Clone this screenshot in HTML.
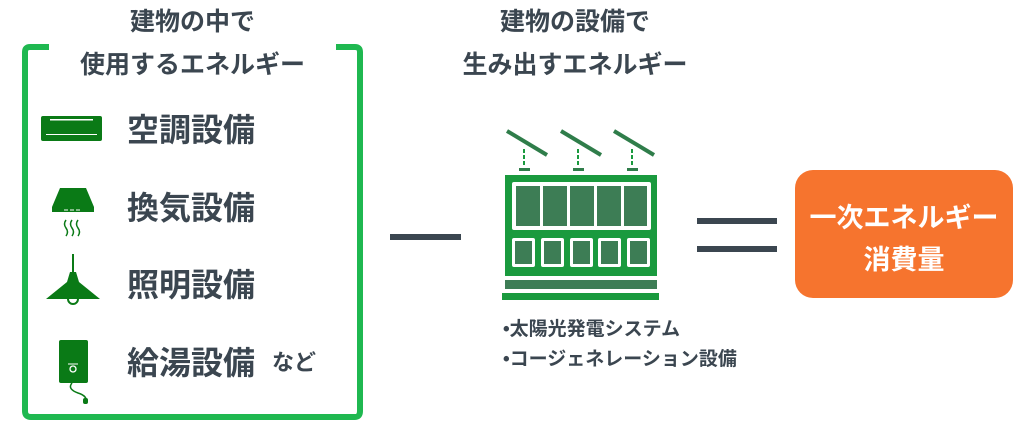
<!DOCTYPE html>
<html><head><meta charset="utf-8"><style>
body{margin:0;width:1024px;height:427px;background:#fff;overflow:hidden;position:relative;font-family:"Liberation Sans","Noto Sans CJK JP",sans-serif;font-weight:bold;color:#3b4650}
.t{position:absolute;white-space:nowrap;line-height:1}
</style></head><body>
<svg width="1024" height="427" style="position:absolute;left:0;top:0">
<path d="M49 47 H30 Q25 47 25 52 V411 Q25 417 31 417 H355 Q360 417 360 411 V52 Q360 47 355 47 H336" fill="none" stroke="#1fb850" stroke-width="6"/>
<rect x="41" y="116" width="61" height="25" rx="2" fill="#0a7a16"/>
<rect x="50" y="119" width="43" height="1.5" fill="#fff"/>
<rect x="46" y="134" width="51" height="1" fill="#fff"/>
<path d="M60 188 H86 L94 207 V212 H52 V207 Z" fill="#0a7a16"/>
<path d="M64 210h4M70 210h4M76 210h4" stroke="#fff" stroke-width="1"/>
<path d="M66 220q-3 4 0 8t0 8M72 220q-3 4 0 8t0 8M78 220q-3 4 0 8t0 8" stroke="#0a7a16" stroke-width="1.5" fill="none"/>
<line x1="73" y1="254" x2="73" y2="272" stroke="#0a7a16" stroke-width="2"/>
<path d="M70 272 h6 l3 10 L100 299 H46 L67 282 Z" fill="#0a7a16"/>
<path d="M68 299 a5 5 0 0 0 10 0" fill="none" stroke="#0a7a16" stroke-width="2"/>
<rect x="59" y="340" width="29" height="43" rx="2" fill="#0a7a16"/>
<circle cx="73" cy="369" r="3" fill="none" stroke="#fff" stroke-width="1.3"/>
<path d="M68 364 h10" stroke="#fff" stroke-width="1"/>
<path d="M72 383 q-5 6 6 10 q10 3 8 10" fill="none" stroke="#0a7a16" stroke-width="1.5"/>
<rect x="83" y="398" width="5" height="6" rx="2" fill="#0a7a16"/>
<rect x="390" y="234" width="71" height="6" fill="#3b4650"/>
<rect x="697" y="218" width="80" height="6" fill="#3b4650"/>
<rect x="697" y="246" width="80" height="6" fill="#3b4650"/>
<g stroke="#2f7d4a" stroke-width="4">
<line x1="507" y1="131" x2="547" y2="155"/><line x1="561" y1="131" x2="601" y2="155"/><line x1="614" y1="131" x2="654" y2="155"/>
</g>
<g stroke="#1a9a3e" stroke-width="2" stroke-dasharray="4 2">
<line x1="524" y1="149" x2="524" y2="165"/><line x1="578" y1="149" x2="578" y2="165"/><line x1="632" y1="149" x2="632" y2="165"/>
</g>
<g fill="#2f7d4a"><rect x="519" y="168" width="11" height="3"/><rect x="573" y="168" width="11" height="3"/><rect x="627" y="168" width="11" height="3"/></g>
<rect x="505" y="175" width="152" height="101" fill="#1a9a3e"/>
<rect x="512" y="182" width="139" height="48" rx="2" fill="#fff"/>
<g fill="#3d7d55">
<rect x="516" y="186" width="24" height="40"/><rect x="543" y="186" width="24" height="40"/><rect x="570" y="186" width="24" height="40"/><rect x="597" y="186" width="24" height="40"/><rect x="624" y="186" width="23" height="40"/>
</g>
<g fill="#fff"><rect x="512" y="238" width="23" height="29" rx="2"/><rect x="541" y="238" width="23" height="29" rx="2"/><rect x="570" y="238" width="23" height="29" rx="2"/><rect x="598" y="238" width="23" height="29" rx="2"/><rect x="627" y="238" width="23" height="29" rx="2"/></g>
<g fill="#3d7d55"><rect x="515" y="241" width="17" height="23"/><rect x="544" y="241" width="17" height="23"/><rect x="573" y="241" width="17" height="23"/><rect x="601" y="241" width="17" height="23"/><rect x="630" y="241" width="17" height="23"/></g>
<rect x="505" y="280" width="152" height="9" fill="#3d7d55"/>
<rect x="502" y="293" width="157" height="7" fill="#1a9a3e"/>
<rect x="795" y="170" width="218" height="128" rx="18" fill="#f6742e"/>
</svg>
<div class="t" style="left:0;width:385px;text-align:center;top:10px;font-size:25px">建物の中で</div>
<div class="t" style="left:0;width:385px;text-align:center;top:53px;font-size:25px">使用するエネルギー</div>
<div class="t" style="left:127px;top:114px;font-size:32px">空調設備</div>
<div class="t" style="left:127px;top:192px;font-size:32px">換気設備</div>
<div class="t" style="left:127px;top:269px;font-size:32px">照明設備</div>
<div class="t" style="left:127px;top:347px;font-size:32px">給湯設備</div>
<div class="t" style="left:272px;top:352px;font-size:22px">など</div>
<div class="t" style="left:440px;width:270px;text-align:center;top:10px;font-size:25px">建物の設備で</div>
<div class="t" style="left:440px;width:270px;text-align:center;top:53px;font-size:25px">生み出すエネルギー</div>
<div class="t" style="left:503px;top:320px;font-size:19px">•太陽光発電システム</div>
<div class="t" style="left:503px;top:350px;font-size:19px">•コージェネレーション設備</div>
<div class="t" style="left:795px;width:218px;text-align:center;top:205px;font-size:27px;color:#fff">一次エネルギー</div>
<div class="t" style="left:795px;width:218px;text-align:center;top:247px;font-size:27px;color:#fff">消費量</div>
</body></html>
